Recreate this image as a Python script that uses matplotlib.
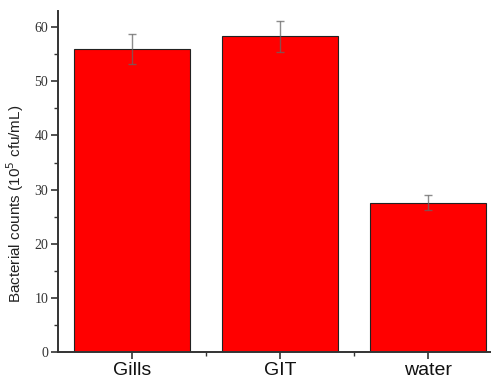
import matplotlib.pyplot as plt
from matplotlib.ticker import MultipleLocator

categories = ['Gills', 'GIT', 'water']
counts = [56.0, 58.3, 27.6]
errors = [2.75, 2.9, 1.45]

fig = plt.figure(figsize=(4.91, 3.79), dpi=100)
ax = fig.add_axes([58 / 491, 27 / 379, 444 / 491, 341 / 379])

x = range(len(categories))
ax.bar(x, counts, width=0.79, color='#ff0000', edgecolor='#222222', linewidth=0.8, zorder=2)
ax.errorbar(x, counts, yerr=errors, fmt='none', ecolor='#666666', alpha=0.75,
            elinewidth=1.0, capsize=3, capthick=1.0, zorder=3)

ax.set_xlim(-0.5, 2.5)
ax.set_ylim(0, 63)
ax.yaxis.set_major_locator(MultipleLocator(10))
ax.yaxis.set_minor_locator(MultipleLocator(5))
ax.set_xticks(list(x))
ax.set_xticks([0.5, 1.5], minor=True)
ax.set_xticklabels(categories, fontsize=14, family='Liberation Sans', color='#111111')
for lab in ax.get_yticklabels():
    lab.set_family('Liberation Serif')
    lab.set_fontsize(10)
    lab.set_color('#333333')

for side in ['top', 'right']:
    ax.spines[side].set_visible(False)
for side in ['left', 'bottom']:
    ax.spines[side].set_linewidth(1.4)
    ax.spines[side].set_color('#333333')
ax.tick_params(axis='both', which='major', direction='out', length=5, width=1.2, color='#333333')
ax.tick_params(axis='both', which='minor', direction='out', length=3, width=1.0, color='#333333')
ax.tick_params(axis='x', pad=2)
ax.tick_params(axis='y', pad=2)

ax.set_ylabel(r'Bacterial counts (10$^5$ cfu/mL)', fontsize=11, family='Liberation Sans',
              color='#222222')
ax.yaxis.set_label_coords(-0.072, 0.434)

fig.savefig('out.png', dpi=100)
